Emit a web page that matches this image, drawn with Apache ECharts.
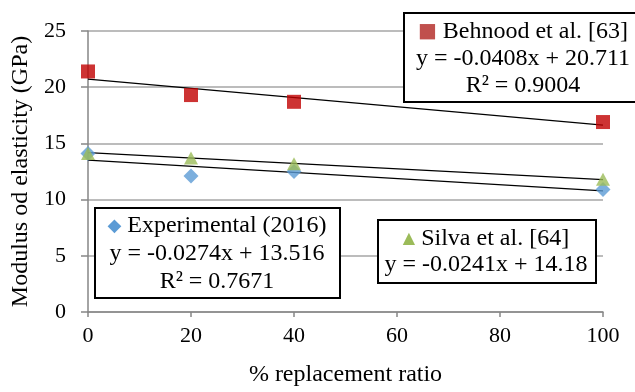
<!DOCTYPE html>
<html><head><meta charset="utf-8">
<script src="https://cdn.jsdelivr.net/npm/echarts@6/dist/echarts.min.js"></script>
<style>html,body{margin:0;padding:0;background:#fff}#c{width:635px;height:392px}</style>
</head><body><div id="c"></div>
<script>
const xValues = [0, 20, 40, 100];
const behnood = [21.4, 19.3, 18.7, 16.9];
const experimental = [14.1, 12.1, 12.5, 10.9];
const silva = [14.1, 13.7, 13.2, 11.8];
// trendline coefficients as printed on the chart
const trendSlopes = [-0.0408, -0.0274, -0.0241];
const trendIntercepts = [20.711, 13.516, 14.18];
const xTicks = [0, 20, 40, 60, 80, 100];
const yTicks = [0, 5, 10, 15, 20, 25];
const xTitle = '% replacement ratio';
const yTitle = 'Modulus od elasticity (GPa)';

const FONT = '"Liberation Serif", "Times New Roman", serif';
const trendX = [0, 100];
function trendData(i){ return trendX.map(x => [x, trendSlopes[i]*x + trendIntercepts[i]]); }
function pts(arr){ return xValues.map((x,i)=>[x, arr[i]]); }

const chart = echarts.init(document.getElementById('c'), null, {renderer:'canvas'});
const trendStyle = {color:'#000', width:1.3};
chart.setOption({
  animation:false,
  backgroundColor:'#fff',
  grid:{left:88, right:32, top:31, bottom:77, containLabel:false},
  xAxis:{type:'value', min:0, max:100, interval:20,
    name:xTitle, nameLocation:'middle', nameGap:51,
    nameTextStyle:{fontFamily:FONT, fontSize:24, color:'#000'},
    axisLine:{show:true, onZero:false, lineStyle:{color:'#868686', width:1.5}},
    axisTick:{show:true, length:5, lineStyle:{color:'#868686', width:1.5}},
    axisLabel:{fontFamily:FONT, fontSize:22, color:'#000', margin:13},
    splitLine:{show:false}},
  yAxis:{type:'value', min:0, max:25, interval:5,
    name:yTitle, nameLocation:'middle', nameGap:54,
    nameTextStyle:{fontFamily:FONT, fontSize:24, color:'#000'},
    axisLine:{show:true, lineStyle:{color:'#868686', width:1.5}},
    axisTick:{show:true, length:7, lineStyle:{color:'#868686', width:1.5}},
    axisLabel:{fontFamily:FONT, fontSize:22, color:'#000', margin:22},
    splitLine:{show:true, lineStyle:{color:'#a6a6a6', width:1.5}}},
  series:[
    {type:'line', data:trendData(0), symbol:'none', lineStyle:trendStyle, z:3},
    {type:'line', data:trendData(1), symbol:'none', lineStyle:trendStyle, z:3},
    {type:'line', data:trendData(2), symbol:'none', lineStyle:trendStyle, z:3},
    {type:'scatter', name:'Behnood et al. [63]', data:pts(behnood), symbol:'rect', symbolSize:14, itemStyle:{color:'#C00000'}, z:4},
    {type:'scatter', name:'Experimental (2016)', data:pts(experimental), symbol:'diamond', symbolSize:[15,15], itemStyle:{color:'#5B9BD5'}, z:4},
    {type:'scatter', name:'Silva et al. [64]', data:pts(silva), symbol:'triangle', symbolSize:[14,13], itemStyle:{color:'#9BBB59'}, z:5}
  ],
  graphic:[
    {type:'rect', shape:{x:404, y:13, width:240, height:89}, style:{fill:'#fff', stroke:'#000', lineWidth:2}, z:10},
    {type:'text', x:523, y:18, z:11, style:{text:'{r|■} Behnood et al. [63]\ny = -0.0408x + 20.711\nR² = 0.9004', font:'24px '+FONT, fill:'#000', align:'center', verticalAlign:'top', lineHeight:27,
      rich:{r:{fill:'#C0504D', fontSize:20, fontFamily:'"DejaVu Sans"'}}}},
    {type:'rect', shape:{x:95, y:208, width:245, height:90}, style:{fill:'#fff', stroke:'#000', lineWidth:2}, z:10},
    {type:'text', x:217, y:212, z:11, style:{text:'{b|◆} Experimental (2016)\ny = -0.0274x + 13.516\nR² = 0.7671', font:'24px '+FONT, fill:'#000', align:'center', verticalAlign:'top', lineHeight:28,
      rich:{b:{fill:'#5B9BD5', fontSize:18, fontFamily:'"DejaVu Sans"'}}}},
    {type:'rect', shape:{x:378, y:220, width:218, height:63}, style:{fill:'#fff', stroke:'#000', lineWidth:2}, z:10},
    {type:'text', x:486, y:226, z:11, style:{text:'{g|▲} Silva et al. [64]\ny = -0.0241x + 14.18', font:'24px '+FONT, fill:'#000', align:'center', verticalAlign:'top', lineHeight:26,
      rich:{g:{fill:'#9BBB59', fontSize:16, fontFamily:'"DejaVu Sans"'}}}}
  ]
});
</script></body></html>
